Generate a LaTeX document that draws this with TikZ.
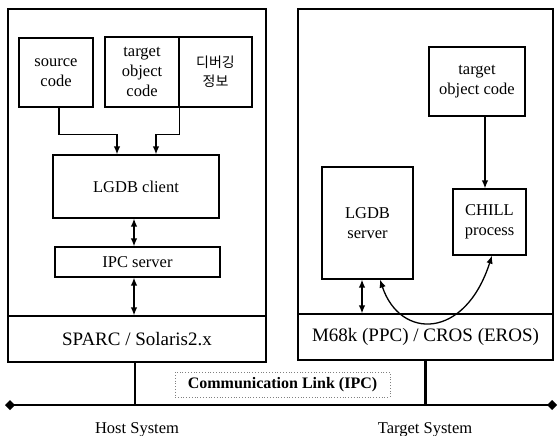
\documentclass[tikz,border=0pt]{standalone}
\usepackage{fontspec}
\setmainfont{Liberation Serif}
\newfontfamily\kofont{Noto Sans CJK KR}
\usetikzlibrary{arrows.meta}
\begin{document}
\begin{tikzpicture}[x=1bp,y=-1bp,
  box/.style={draw,line width=1.2bp,rectangle,inner sep=0pt,align=center,font=\fontsize{16.5bp}{20bp}\selectfont},
  band/.style={box,font=\fontsize{19bp}{22bp}\selectfont},
  lbl/.style={font=\fontsize{16.5bp}{20bp}\selectfont},
  arr/.style={line width=1.3bp,-{Latex[length=8bp,width=6.5bp]}},
  darr/.style={line width=1.3bp,{Latex[length=8bp,width=6.5bp]}-{Latex[length=8bp,width=6.5bp]}},
  link/.style={line width=2.6bp},
  commbox/.style={draw=gray,dotted,line width=0.8bp,fill=white,inner sep=0pt,font=\bfseries\fontsize{16bp}{18bp}\selectfont}]
\useasboundingbox (0,0) rectangle (559,436);

% left (host) system
\node[box,minimum width=258bp,minimum height=353bp] (host) at (137,185.5) {};
\node[band,minimum width=258bp,minimum height=46bp] (lband) at (137,339) {SPARC / Solaris2.x};
\node[box,minimum width=74bp,minimum height=69bp] (src) at (56,72.5) {source\\code};
\node[box,minimum width=74bp,minimum height=70bp] (tgt) at (142,72) {target\\object\\code};
\node[box,minimum width=73bp,minimum height=70bp,font=\kofont\fontsize{14bp}{19bp}\selectfont] (dbg) at (215.5,72) {디버깅\\정보};
\node[box,minimum width=166bp,minimum height=63bp] (client) at (136,186.5) {LGDB client};
\node[box,minimum width=165bp,minimum height=30bp] (ipc) at (137.5,262) {IPC server};

\draw[arr] ([xshift=3bp]src.south) |- ([xshift=-19bp,yshift=20bp]client.north) -- ([xshift=-19bp]client.north);
\draw[arr] (tgt.south east) |- ([xshift=20bp,yshift=20bp]client.north) -- ([xshift=20bp]client.north);
\draw[darr] ([xshift=-2bp]client.south) -- ([xshift=-2bp]client.south |- ipc.north);
\draw[darr] ([xshift=-3.5bp]ipc.south) -- ([xshift=-3.5bp]ipc.south |- lband.north);

% right (target) system
\node[box,minimum width=255bp,minimum height=351bp] (target) at (425.5,184.5) {};
\node[band,minimum width=255bp,minimum height=46bp] (rband) at (425.5,337) {M68k (PPC) / CROS (EROS)};
\node[box,minimum width=96bp,minimum height=69bp] (tgt2) at (477,81.5) {target\\object code};
\node[box,minimum width=73bp,minimum height=66bp] (chill) at (489.5,222) {CHILL\\process};
\node[box,minimum width=91bp,minimum height=112bp] (srv) at (367.5,223) {LGDB\\server};

\draw[arr] ([xshift=8bp]tgt2.south) -- ([xshift=8bp]tgt2.south |- chill.north);
\draw[darr] ([xshift=-5.5bp]srv.south) -- ([xshift=-5.5bp]srv.south |- rband.north);
\draw[darr] ([xshift=12.5bp]srv.south) .. controls (400,340) and (465,340) .. ([xshift=2.5bp]chill.south);

% communication link
\coordinate (le) at (5,405);
\coordinate (re) at (557,405);
\draw[link] ([xshift=-2bp]lband.south) -- ([xshift=-2bp]lband.south |- le);
\draw[link] (rband.south) -- (rband.south |- le);
\draw[link,{Diamond[length=10bp,width=10bp]}-{Diamond[length=10bp,width=10bp]}] (le) -- (re);
\node[commbox,minimum width=215bp,minimum height=25bp] (comm) at (282.5,384.5) {Communication Link (IPC)};

\node[lbl] (hostlbl) at (137,430) {Host System};
\node[lbl] (tgtlbl) at (425,430) {Target System};
\end{tikzpicture}
\end{document}
